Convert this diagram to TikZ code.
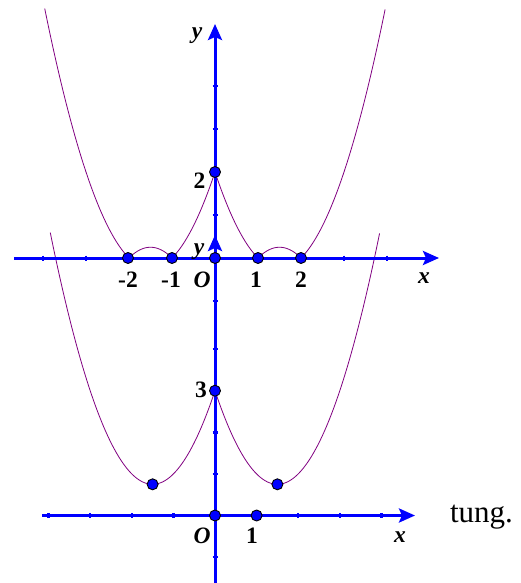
\documentclass[tikz,border=0pt]{standalone}
\usepackage{fontspec}
\setmainfont{Liberation Serif}
\usetikzlibrary{arrows.meta}
\definecolor{axblue}{RGB}{0,0,255}
\definecolor{curvep}{RGB}{128,0,128}
\begin{document}
\begin{tikzpicture}[x=1pt,y=-1pt,
  axisline/.style={draw=axblue,line width=3pt,-{Stealth[length=16pt,width=14pt,inset=3pt]}},
  plainaxis/.style={draw=axblue,line width=3pt},
  curveline/.style={draw=curvep,line width=0.8pt},
  tickmark/.style={draw=axblue,line width=2.5pt},
  dotpt/.style={circle,fill=axblue,draw=black,line width=0.9pt,inner sep=0pt,minimum size=11pt},
  lbl/.style={font=\bfseries\fontsize{23.5}{27}\selectfont,inner sep=0pt,anchor=base},
  lbli/.style={font=\bfseries\itshape\fontsize{23.5}{27}\selectfont,inner sep=0pt,anchor=base},
  word/.style={font=\fontsize{31}{36}\selectfont,inner sep=0pt,anchor=base}]
\useasboundingbox (0,0) rectangle (521,583);
% curves
\draw[curveline] plot[domain=-3.96:3.96,samples=397]
  ({215+43*\x},{258-43*abs((\x)*(\x)-3*abs(\x)+2)});
\draw[curveline] plot[domain=-3.96:3.96,samples=397]
  ({215+41.6*\x},{515.5-41.6*((\x)*(\x)-3*abs(\x)+3)});
% axes coordinates
\coordinate (ux0) at (14,258);
\coordinate (ux1) at (439,258);
\coordinate (uy0) at (215,305);
\coordinate (uy1) at (215,24);
\coordinate (lx0) at (42,515.5);
\coordinate (lx1) at (415,515.5);
\coordinate (ly0) at (215,583);
\coordinate (ly1) at (215,235);
\draw[plainaxis] (ly0) -- (215,260);
\draw[axisline] (215,262) -- (ly1);
\draw[plainaxis] (uy0) -- (215,250);
\draw[axisline] (215,250) -- (uy1);
\draw[axisline] (ux0) -- (ux1);
\draw[axisline] (lx0) -- (lx1);
% ticks
\foreach \k in {-4,-3,3,4} \draw[tickmark] ({215+43*\k},255.5) -- ({215+43*\k},260.5);
\foreach \k in {1,3,4,-1} \draw[tickmark] (212.5,{258-43*\k}) -- (217.5,{258-43*\k});
\foreach \k in {-4,-3,-2,-1,2,3,4} \draw[tickmark] ({215+41.6*\k},513) -- ({215+41.6*\k},518);
\foreach \k in {1,2,4,-1} \draw[tickmark] (212.5,{515.5-41.6*\k}) -- (217.5,{515.5-41.6*\k});
% points
\node[dotpt] (pm2) at (128,258) {};
\node[dotpt] (pm1) at (172,258) {};
\node[dotpt] (po1) at (215,258) {};
\node[dotpt] (pp1) at (258,258) {};
\node[dotpt] (pp2) at (301,258) {};
\node[dotpt] (p2) at (215,172) {};
\node[dotpt] (po2) at (215,515.5) {};
\node[dotpt] (q1) at (256.6,515.5) {};
\node[dotpt] (qm) at (152.6,484.3) {};
\node[dotpt] (qp) at (277.4,484.3) {};
\node[dotpt] (q3) at (215,390.7) {};
% labels
\node[lbli] (ly) at (197,39) {y};
\node[lbli] (lxu) at (424,283) {x};
\node[lbl] (tm2) at (128,287) {-2};
\node[lbl] (tm1) at (171,287) {-1};
\node[lbli] (tO1) at (202,287) {O};
\node[lbl] (t1) at (256,287) {1};
\node[lbl] (t2) at (301,287) {2};
\node[lbl] (t2y) at (199.5,188) {2};
\node[lbli] (ly2) at (199,254) {y};
\node[lbl] (t3) at (201,397) {3};
\node[lbli] (tO2) at (202,543) {O};
\node[lbl] (t1b) at (252,543) {1};
\node[lbli] (lxl) at (400,542) {x};
\node[word] (tung) at (481.5,522) {tung.};
\end{tikzpicture}
\end{document}
